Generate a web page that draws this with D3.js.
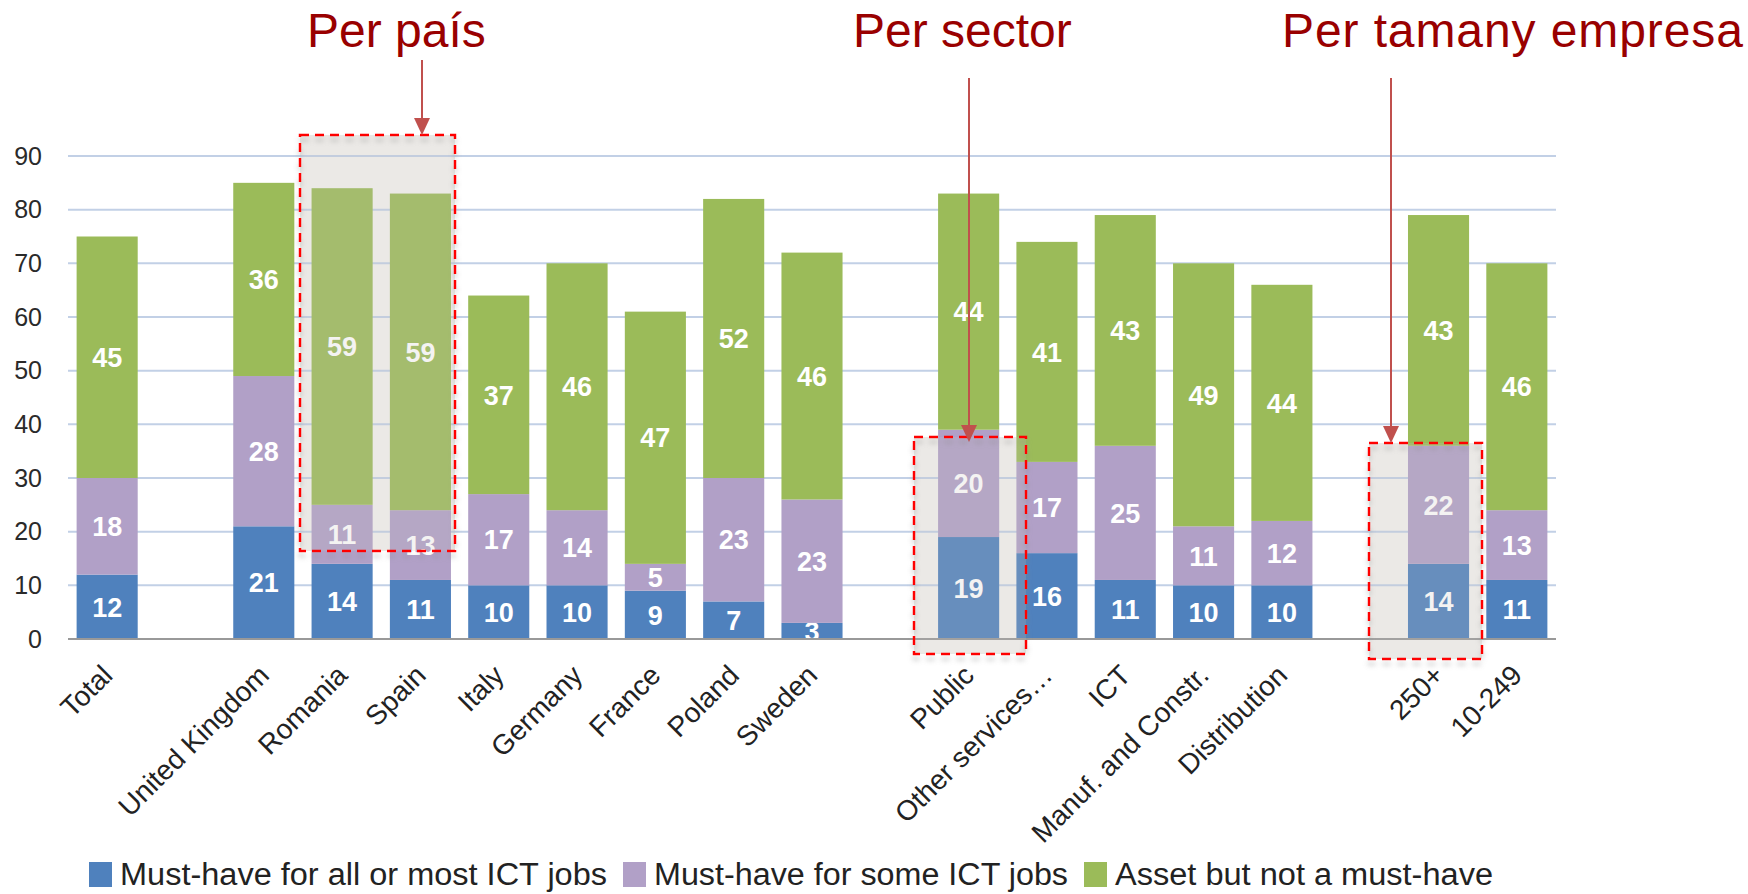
<!DOCTYPE html>
<html>
<head>
<meta charset="utf-8">
<script src="https://cdn.jsdelivr.net/npm/d3@7"></script>
<style>
  body { margin: 0; background: #fff; }
  text { font-family: "Liberation Sans", Arial, sans-serif; }
</style>
</head>
<body>
<svg id="chart"></svg>
<script>
// data ------------------------------------------------------------------------------------------
// empty strings are the blank gaps between the groups
const categories = ["Total", "", "United Kingdom", "Romania", "Spain", "Italy", "Germany", "France",
    "Poland", "Sweden", "", "Public", "Other services…", "ICT", "Manuf. and Constr.", "Distribution",
    "", "250+", "10-249"];
const mustAll  = [12, null, 21, 14, 11, 10, 10, 9, 7, 3, null, 19, 16, 11, 10, 10, null, 14, 11];
const mustSome = [18, null, 28, 11, 13, 17, 14, 5, 23, 23, null, 20, 17, 25, 11, 12, null, 22, 13];
const asset    = [45, null, 36, 59, 59, 37, 46, 47, 52, 46, null, 44, 41, 43, 49, 44, null, 43, 46];
const seriesNames = ["Must-have for all or most ICT jobs", "Must-have for some ICT jobs", "Asset but not a must-have"];
const yTicks = [0, 10, 20, 30, 40, 50, 60, 70, 80, 90];
const groupTitles = ["Per país", "Per sector", "Per tamany empresa"];

// setup -----------------------------------------------------------------------------------------
const width = 1748;
const height = 894;
const colors = ["#4f81bd", "#b1a0c7", "#9bbb59"];
const keys = ["must", "some", "asset"];

const svg = d3.select('#chart')
    .attr('width', width)
    .attr('height', height);

const defs = svg.append('defs');
const shadow = defs.append('filter').attr('id', 'shadow')
    .attr('x', '-10%').attr('y', '-10%').attr('width', '120%').attr('height', '130%');
shadow.append('feDropShadow')
    .attr('dx', 0).attr('dy', 5).attr('stdDeviation', 2.5)
    .attr('flood-color', '#888').attr('flood-opacity', 0.45);

const x = d3.scaleBand()
    .domain(d3.range(categories.length))
    .range([68, 1556])
    .paddingInner(0.22)
    .paddingOuter(0.11);

const y = d3.scaleLinear()
    .domain([0, 90])
    .range([639, 156]);

const rows = categories.map((c, i) => ({ i, must: mustAll[i], some: mustSome[i], asset: asset[i] }))
    .filter(d => d.must != null);

const series = d3.stack().keys(keys)(rows);

// highlight boxes (annotations): [x0, y0, x1, y1], arrow [x, yStart, yEnd], title x
const highlights = [
    { box: [300, 135, 455, 551], arrow: [422, 60, 135], tx: 307, ls: 0 },
    { box: [914, 437, 1026, 654], arrow: [969, 78, 442], tx: 853, ls: 0 },
    { box: [1369, 443, 1482, 659], arrow: [1391, 78, 443], tx: 1282, ls: 0.9 }
];

// box backgrounds
svg.append('g')
    .selectAll('rect')
    .data(highlights)
    .join('rect')
    .attr('x', d => d.box[0])
    .attr('y', d => d.box[1])
    .attr('width', d => d.box[2] - d.box[0])
    .attr('height', d => d.box[3] - d.box[1])
    .attr('fill', '#f4f3f1');

// gridlines
svg.append('g')
    .selectAll('line')
    .data(yTicks.filter(t => t > 0))
    .join('line')
    .attr('x1', x.range()[0])
    .attr('x2', x.range()[1])
    .attr('y1', d => y(d))
    .attr('y2', d => y(d))
    .attr('stroke', '#c2d0e6')
    .attr('stroke-width', 2);

// bars
const layer = svg.append('g')
    .selectAll('g')
    .data(series)
    .join('g')
    .attr('fill', (d, i) => colors[i]);

layer.selectAll('rect')
    .data(d => d)
    .join('rect')
    .attr('x', d => x(d.data.i))
    .attr('width', x.bandwidth())
    .attr('y', d => y(d[1]))
    .attr('height', d => y(d[0]) - y(d[1]));

// value labels
layer.selectAll('text')
    .data(d => d.map(v => ({ v, key: d.key })))
    .join('text')
    .attr('x', d => x(d.v.data.i) + x.bandwidth() / 2)
    .attr('y', d => (y(d.v[0]) + y(d.v[1])) / 2)
    .attr('dy', '0.36em')
    .attr('text-anchor', 'middle')
    .attr('fill', '#fff')
    .attr('font-size', '27px')
    .attr('font-weight', 'bold')
    .text(d => d.v.data[d.key]);

// baseline
svg.append('line')
    .attr('x1', x.range()[0])
    .attr('x2', x.range()[1])
    .attr('y1', y(0))
    .attr('y2', y(0))
    .attr('stroke', '#999')
    .attr('stroke-width', 2);

// y axis
const yAxis = svg.append('g')
    .attr('transform', `translate(${x.range()[0]},0)`)
    .call(d3.axisLeft(y).tickValues(yTicks).tickSize(0).tickPadding(26));
yAxis.select('.domain').remove();
yAxis.selectAll('text')
    .attr('font-size', '25px')
    .attr('font-family', '"Liberation Sans", Arial, sans-serif')
    .attr('fill', '#2a2a2a');

// x axis
const xAxis = svg.append('g')
    .attr('transform', `translate(0,${y(0)})`)
    .call(d3.axisBottom(x).tickSize(0).tickFormat(i => categories[i]));
xAxis.select('.domain').remove();
xAxis.selectAll('text')
    .attr('x', 0)
    .attr('y', 0)
    .attr('dy', 0)
    .attr('transform', 'translate(7,38) rotate(-45)')
    .attr('text-anchor', 'end')
    .attr('font-size', '28px')
    .attr('font-family', '"Liberation Sans", Arial, sans-serif')
    .attr('fill', '#222');

// box overlays + dashed borders
const hl = svg.append('g');
hl.selectAll('rect.overlay')
    .data(highlights)
    .join('rect')
    .attr('class', 'overlay')
    .attr('x', d => d.box[0])
    .attr('y', d => d.box[1])
    .attr('width', d => d.box[2] - d.box[0])
    .attr('height', d => d.box[3] - d.box[1])
    .attr('fill', 'rgb(200,196,190)')
    .attr('fill-opacity', 0.2);

hl.selectAll('rect.border')
    .data(highlights)
    .join('rect')
    .attr('class', 'border')
    .attr('x', d => d.box[0])
    .attr('y', d => d.box[1])
    .attr('width', d => d.box[2] - d.box[0])
    .attr('height', d => d.box[3] - d.box[1])
    .attr('fill', 'none')
    .attr('stroke', '#ff0000')
    .attr('stroke-width', 2.5)
    .attr('stroke-dasharray', '9,6')
    .attr('filter', 'url(#shadow)');

// arrows
hl.selectAll('line.arrow')
    .data(highlights)
    .join('line')
    .attr('class', 'arrow')
    .attr('x1', d => d.arrow[0])
    .attr('x2', d => d.arrow[0])
    .attr('y1', d => d.arrow[1])
    .attr('y2', d => d.arrow[2] - 14)
    .attr('stroke', '#c0504d')
    .attr('stroke-width', 2);

hl.selectAll('path.head')
    .data(highlights)
    .join('path')
    .attr('class', 'head')
    .attr('d', d => `M${d.arrow[0] - 8},${d.arrow[2] - 17} L${d.arrow[0] + 8},${d.arrow[2] - 17} L${d.arrow[0]},${d.arrow[2]} Z`)
    .attr('fill', '#c0504d');

// titles
svg.append('g')
    .selectAll('text')
    .data(highlights)
    .join('text')
    .attr('x', d => d.tx)
    .attr('y', 47)
    .attr('font-size', '48px')
    .attr('letter-spacing', d => d.ls)
    .attr('fill', '#990000')
    .text((d, i) => groupTitles[i]);

// legend
const legendX = [89, 623, 1084];
const legendW = [487, 414, 378];
const legend = svg.append('g')
    .selectAll('g')
    .data(seriesNames)
    .join('g')
    .attr('transform', (d, i) => `translate(${legendX[i]},862)`);

legend.append('rect')
    .attr('width', 23)
    .attr('height', 25)
    .attr('fill', (d, i) => colors[i]);

legend.append('text')
    .attr('x', 31)
    .attr('y', 23)
    .attr('font-size', '31px')
    .attr('fill', '#222')
    .attr('textLength', (d, i) => legendW[i])
    .attr('lengthAdjust', 'spacingAndGlyphs')
    .text(d => d);
</script>
</body>
</html>
